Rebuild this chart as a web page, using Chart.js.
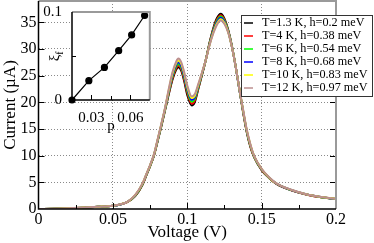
<!DOCTYPE html>
<html lang="en">
<head>
	<meta charset="UTF-8">
	<title>current vs voltage</title>
	<script src="https://cdn.jsdelivr.net/npm/chart.js@4/dist/chart.umd.min.js"></script>
	<style>
		html,body{margin:0;padding:0;background:#fff;}
		#wrap{position:relative;width:374px;height:243px;overflow:hidden;}
		#main{position:absolute;left:0;top:0;}
		#inset{position:absolute;left:40px;top:0;}
	</style>
</head>
<body>
	<div id="wrap">
		<canvas id="main" width="374" height="243"></canvas>
		<canvas id="inset" width="115" height="134"></canvas>
	</div>

	<script>

		var voltage=[0, 0.01, 0.02, 0.03, 0.04, 0.05, 0.055, 0.06, 0.065, 0.07, 0.0725, 0.075, 0.0775, 0.08, 0.0825, 0.085,
			0.0875, 0.09, 0.0925, 0.094, 0.096, 0.098, 0.1, 0.103, 0.105, 0.1075, 0.11, 0.1125, 0.115, 0.1175, 0.12, 0.1225,
			0.125, 0.1275, 0.13, 0.1325, 0.135, 0.1375, 0.14, 0.1425, 0.145, 0.15, 0.155, 0.16, 0.17, 0.18, 0.19, 0.2];

		var curT1=[0, 0.05, 0.13, 0.25, 0.4, 0.6, 0.85, 1.35, 2.4, 4.6, 6.3, 8.0, 9.9, 12.6, 15.4, 18.4,
			21.4, 24.2, 26.1, 26.6, 25.9, 23.9, 21.4, 19.4, 20.0, 22.6, 25.2, 28.0, 31.2, 33.9, 35.8, 36.6,
			35.7, 33.6, 30.6, 26.8, 22.5, 18.2, 14.4, 11.6, 9.7, 7.3, 5.8, 4.7, 3.5, 2.72, 2.2, 1.85];
		var curT4=[0, 0.05, 0.13, 0.25, 0.4, 0.6, 0.85, 1.35, 2.45, 4.65, 6.35, 8.05, 9.95, 12.65, 15.5, 18.5,
			21.6, 24.4, 26.4, 26.9, 26.2, 24.2, 21.8, 19.75, 20.3, 22.7, 25.3, 28.0, 31.1, 33.7, 35.55, 36.35,
			35.5, 33.5, 30.5, 26.8, 22.5, 18.3, 14.5, 11.7, 9.75, 7.35, 5.83, 4.72, 3.52, 2.73, 2.21, 1.86];
		var curT6=[0, 0.05, 0.13, 0.25, 0.4, 0.6, 0.85, 1.36, 2.5, 4.7, 6.4, 8.1, 10.0, 12.7, 15.6, 18.6,
			21.8, 24.7, 26.7, 27.2, 26.5, 24.6, 22.2, 20.1, 20.6, 22.9, 25.4, 28.0, 31.0, 33.5, 35.3, 36.1,
			35.3, 33.4, 30.5, 26.8, 22.5, 18.4, 14.6, 11.8, 9.8, 7.4, 5.86, 4.74, 3.54, 2.74, 2.22, 1.87];
		var curT8=[0, 0.05, 0.13, 0.25, 0.4, 0.61, 0.86, 1.37, 2.55, 4.75, 6.45, 8.15, 10.05, 12.8, 15.7, 18.7,
			22.0, 25.0, 27.0, 27.5, 26.8, 24.9, 22.5, 20.45, 20.9, 23.1, 25.5, 28.0, 30.9, 33.3, 35.05, 35.85,
			35.1, 33.3, 30.4, 26.8, 22.5, 18.5, 14.7, 11.9, 9.85, 7.45, 5.89, 4.76, 3.56, 2.75, 2.23, 1.88];
		var curT10=[0, 0.05, 0.13, 0.26, 0.41, 0.62, 0.87, 1.38, 2.6, 4.8, 6.5, 8.2, 10.1, 12.9, 15.8, 18.8,
			22.2, 25.3, 27.3, 27.85, 27.2, 25.3, 22.9, 20.8, 21.2, 23.3, 25.6, 28.0, 30.8, 33.1, 34.8, 35.6,
			34.9, 33.2, 30.4, 26.8, 22.6, 18.6, 14.8, 12.0, 9.9, 7.5, 5.92, 4.78, 3.58, 2.76, 2.24, 1.89];
		var curT12=[0, 0.05, 0.14, 0.26, 0.42, 0.63, 0.88, 1.4, 2.65, 4.85, 6.55, 8.25, 10.15, 13.0, 15.9, 18.9,
			22.4, 25.6, 27.6, 28.2, 27.5, 25.6, 23.2, 21.1, 21.5, 23.5, 25.7, 28.0, 30.7, 32.9, 34.55, 35.35,
			34.7, 33.1, 30.4, 26.8, 22.6, 18.7, 14.9, 12.1, 9.95, 7.55, 5.95, 4.8, 3.6, 2.77, 2.25, 1.9];

		var seriesNames=["T=1.3 K, h=0.2 meV","T=4 K, h=0.38 meV","T=6 K, h=0.54 meV",
			"T=8 K, h=0.68 meV","T=10 K, h=0.83 meV","T=12 K, h=0.97 meV"];
		var seriesColors=["#000000","#ff0000","#00ff00","#0000ff","#ffff00","#bc8f8f"];

		var xMajor=[0,0.05,0.1,0.15,0.2];
		var xMinor=[0.025,0.075,0.125,0.175];
		var yMajor=[0,5,10,15,20,25,30,35];

		// inset
		var pVals=[0.015,0.028,0.040,0.051,0.061,0.071];
		var xiVals=[0,0.022,0.037,0.056,0.074,0.096];
		var pMajor=[0.03,0.06];
		var pMinor=[0.045];
		var xiMajor=[0,0.1];
		var xiMinor=[0.05];

		var SERIF="'Liberation Serif','Times New Roman',serif";

		function pts(xs,ys){
			return xs.map(function(x,i){ return {x:x,y:ys[i]}; });
		}

		var allCurrents=[curT1,curT4,curT6,curT8,curT10,curT12];
		var datasets=allCurrents.map(function(c,i){
			return {
				label:seriesNames[i],
				data:pts(voltage,c),
				borderColor:seriesColors[i],
				borderWidth:2,
				pointRadius:0,
				cubicInterpolationMode:"monotone",
				order:allCurrents.length-i
			};
		});

		function transparentEdge(maxv){
			return function(ctx){
				var v=ctx.tick.value;
				if(v===0 || v===maxv) return "rgba(0,0,0,0)";
				return "#8a8a8a";
			};
		}

		// frame + inward ticks
		function frameTicks(opts){
			return {
				id:"frameTicks",
				afterDatasetsDraw:function(chart){
					var c=chart.ctx, a=chart.chartArea, xs=chart.scales.x, ys=chart.scales.y;
					c.save();
					c.lineWidth=1;
					c.strokeStyle="#000";
					opts.xMajor.forEach(function(v){
						var px=Math.round(xs.getPixelForValue(v))+0.5;
						c.beginPath(); c.moveTo(px,a.bottom); c.lineTo(px,a.bottom-opts.major); c.stroke();
					});
					opts.xMinor.forEach(function(v){
						var px=Math.round(xs.getPixelForValue(v))+0.5;
						c.beginPath(); c.moveTo(px,a.bottom); c.lineTo(px,a.bottom-opts.minor); c.stroke();
					});
					opts.yMajor.forEach(function(v){
						var py=Math.round(ys.getPixelForValue(v))+0.5;
						c.beginPath(); c.moveTo(a.left,py); c.lineTo(a.left+opts.major,py); c.stroke();
						if(opts.right) {
							c.beginPath(); c.moveTo(a.right,py); c.lineTo(a.right-opts.major,py); c.stroke();
						}
					});
					opts.yMinor.forEach(function(v){
						var py=Math.round(ys.getPixelForValue(v))+0.5;
						c.beginPath(); c.moveTo(a.left,py); c.lineTo(a.left+opts.minor,py); c.stroke();
					});
					// gray top/right
					c.strokeStyle="#9a9a9a";
					c.lineWidth=2;
					c.beginPath();
					c.moveTo(a.left,a.top); c.lineTo(a.right,a.top); c.lineTo(a.right,a.bottom);
					c.stroke();
					// black left/bottom
					c.strokeStyle="#000";
					c.lineWidth=1.5;
					c.beginPath();
					c.moveTo(a.left,a.top); c.lineTo(a.left,a.bottom); c.lineTo(a.right,a.bottom);
					c.stroke();
					c.restore();
				}
			};
		}

		var legendBox={
			id:"legendBox",
			afterDraw:function(chart){
				var c=chart.ctx;
				var x0=241, y0=15, w=132, h=82, row=13;
				c.save();
				c.fillStyle="#fff";
				c.fillRect(x0,y0,w,h);
				c.strokeStyle="#333";
				c.lineWidth=1;
				c.strokeRect(x0+0.5,y0+0.5,w-1,h-1);
				c.font="12.2px "+SERIF;
				c.textBaseline="middle";
				chart.data.datasets.forEach(function(d,i){
					var y=y0+8+i*row;
					c.strokeStyle=d.borderColor;
					c.lineWidth=1.5;
					c.beginPath(); c.moveTo(x0+3,y); c.lineTo(x0+12,y); c.stroke();
					c.fillStyle="#000";
					c.fillText(d.label,x0+21,y);
				});
				c.restore();
			}
		};

		new Chart(document.getElementById("main"),{
			type:"line",
			data:{datasets:datasets},
			options:{
				responsive:false,
				animation:false,
				devicePixelRatio:1,
				layout:{padding:{top:1,right:38,left:0,bottom:0}},
				plugins:{legend:{display:false},tooltip:{enabled:false}},
				scales:{
					x:{
						type:"linear",min:0,max:0.2,
						afterBuildTicks:function(s){ s.ticks=xMajor.map(function(v){return {value:v};}); },
						afterFit:function(s){ s.height=34; s.paddingLeft=0; s.paddingRight=0; },
						grid:{drawTicks:false,color:transparentEdge(0.2),lineWidth:1},
						border:{display:false,dash:[1,2]},
						ticks:{padding:1,color:"#000",maxRotation:0,font:{family:SERIF,size:16},
							callback:function(v){ return String(v); }},
						title:{display:true,text:"Voltage (V)",color:"#000",padding:{top:0,bottom:0},font:{family:SERIF,size:17}}
					},
					y:{
						min:0,max:39,
						afterBuildTicks:function(s){ s.ticks=yMajor.map(function(v){return {value:v};}); },
						afterFit:function(s){ s.width=38.5; s.paddingTop=0; s.paddingBottom=0; },
						grid:{drawTicks:false,color:transparentEdge(39),lineWidth:1},
						border:{display:false,dash:[1,2]},
						ticks:{padding:2,color:"#000",font:{family:SERIF,size:16}},
						title:{display:true,text:"Current (\u00b5A)",color:"#000",padding:{top:0,bottom:0},font:{family:SERIF,size:17}}
					}
				}
			},
			plugins:[frameTicks({xMajor:xMajor.slice(1,-1),xMinor:xMinor,yMajor:yMajor.slice(1),yMinor:[],major:6,minor:4,right:true}),legendBox]
		});

		// inset chart
		var insetBg={
			id:"insetBg",
			beforeDraw:function(chart){
				var a=chart.chartArea, c=chart.ctx;
				c.save();
				c.fillStyle="#fff";
				c.fillRect(a.left,a.top,a.right-a.left,a.bottom-a.top);
				c.restore();
			},
			afterDraw:function(chart){
				// rotated axis title with subscript
				var a=chart.chartArea, c=chart.ctx;
				c.save();
				c.translate(15,(a.top+a.bottom)/2);
				c.rotate(-Math.PI/2);
				c.fillStyle="#000";
				c.textBaseline="middle";
				c.font="15px "+SERIF;
				var w=c.measureText("\u03be").width;
				c.fillText("\u03be",-(w+4)/2,0);
				c.font="10px "+SERIF;
				c.fillText("f",-(w+4)/2+w,5);
				c.restore();
			}
		};

		new Chart(document.getElementById("inset"),{
			type:"line",
			data:{datasets:[{
				data:pts(pVals,xiVals),
				borderColor:"#000",
				borderWidth:1.2,
				pointRadius:3,
				pointBackgroundColor:"#000",
				pointBorderColor:"#000",
				clip:false
			}]},
			options:{
				responsive:false,
				animation:false,
				devicePixelRatio:1,
				layout:{padding:{top:12,right:4,left:0,bottom:0}},
				plugins:{legend:{display:false},tooltip:{enabled:false}},
				scales:{
					x:{
						type:"linear",min:0.015,max:0.075,
						afterBuildTicks:function(s){ s.ticks=pMajor.map(function(v){return {value:v};}); },
						afterFit:function(s){ s.height=34; s.paddingLeft=0; s.paddingRight=0; },
						grid:{display:false},
						border:{display:false},
						ticks:{padding:1,color:"#000",maxRotation:0,font:{family:SERIF,size:15},
							callback:function(v){ return v.toFixed(2); }},
						title:{display:true,text:"p",color:"#000",padding:{top:0,bottom:-1},font:{family:SERIF,size:15}}
					},
					y:{
						min:0,max:0.1,
						afterBuildTicks:function(s){ s.ticks=xiMajor.map(function(v){return {value:v};}); },
						afterFit:function(s){ s.width=32; s.paddingTop=0; s.paddingBottom=0; },
						grid:{display:false},
						border:{display:false},
						ticks:{padding:2,color:"#000",font:{family:SERIF,size:15}}
					}
				}
			},
			plugins:[insetBg,frameTicks({xMajor:pMajor,xMinor:pMinor,yMajor:[],yMinor:xiMinor,major:5,minor:4,right:false})]
		});

	</script>

</body>
</html>
